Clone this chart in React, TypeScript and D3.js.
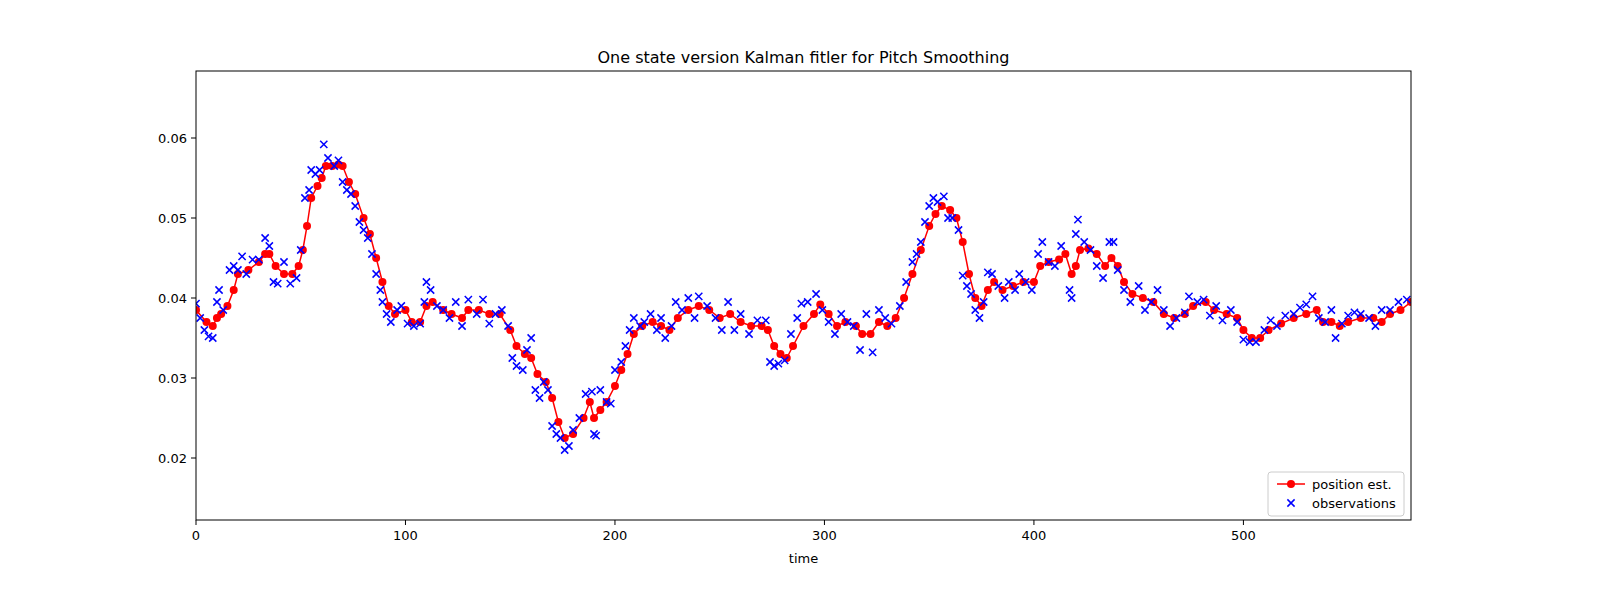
import * as d3 from "d3";
import { useEffect } from "react";

const estT = [0,5,8,10,12,15,18,20,25,30,33,35,38,42,46,49,51,53,55,58,60,62,65,68,70,73,76,80,83,86,89,92,95,100,103,107,110,113,118,122,127,130,135,140,145,150,153,157,160,163,167,170,173,176,180,185,188,190,193,196,200,203,206,209,213,218,222,226,230,235,240,245,250,255,260,265,270,273,276,279,282,285,290,295,298,302,306,310,315,318,322,326,330,334,338,342,346,350,353,356,360,363,366,369,372,375,378,381,385,390,395,400,403,407,412,415,418,420,422,426,430,434,437,440,443,447,452,457,462,467,472,476,482,486,492,497,500,504,508,512,518,524,530,535,538,542,546,550,556,562,566,570,575,580];
const estV = [0.0385,0.037,0.0365,0.0375,0.038,0.039,0.041,0.043,0.0435,0.0445,0.0455,0.0455,0.044,0.043,0.043,0.044,0.046,0.049,0.0525,0.054,0.055,0.0565,0.0565,0.0567,0.0565,0.0545,0.053,0.05,0.048,0.045,0.042,0.039,0.038,0.0385,0.037,0.037,0.039,0.0395,0.0385,0.038,0.0375,0.0385,0.0385,0.038,0.038,0.036,0.034,0.033,0.0325,0.0305,0.0295,0.0275,0.0245,0.0225,0.023,0.025,0.027,0.025,0.026,0.027,0.029,0.031,0.033,0.0355,0.0365,0.037,0.0365,0.036,0.0375,0.0385,0.039,0.0385,0.0375,0.038,0.037,0.0365,0.0365,0.036,0.034,0.033,0.0325,0.034,0.0365,0.038,0.0392,0.038,0.0365,0.037,0.0365,0.0355,0.0355,0.037,0.0365,0.0375,0.04,0.043,0.046,0.049,0.0505,0.0515,0.051,0.05,0.047,0.043,0.04,0.039,0.041,0.042,0.041,0.0415,0.042,0.042,0.044,0.0445,0.0448,0.0455,0.043,0.044,0.046,0.0462,0.0455,0.044,0.045,0.044,0.042,0.0405,0.04,0.0395,0.038,0.0375,0.038,0.039,0.0395,0.0385,0.038,0.0375,0.036,0.035,0.035,0.036,0.0368,0.0375,0.038,0.0385,0.037,0.037,0.0365,0.037,0.0375,0.0375,0.037,0.038,0.0385,0.0395];

const obsT = [0,2,4,6,8,10,11,13,16,18,20,22,24,27,30,33,35,37,39,42,45,48,50,52,54,55,57,59,61,63,66,68,70,72,74,76,78,80,82,84,86,88,89,91,93,96,98,101,104,107,109,110,112,115,118,121,124,127,130,134,137,140,143,146,149,151,153,156,158,160,162,164,166,168,170,172,174,176,178,180,183,186,189,190,191,193,196,198,200,203,205,207,209,212,214,217,220,222,224,227,229,232,235,238,240,244,248,251,254,257,260,264,268,272,274,276,278,281,284,287,289,292,296,299,302,305,308,311,314,317,320,323,326,329,332,336,339,342,344,346,348,350,352,354,357,359,361,364,366,368,370,372,374,376,378,380,383,386,388,391,393,396,399,402,404,407,410,413,417,418,420,421,424,427,430,433,436,438,440,443,446,450,453,456,459,462,465,468,472,474,478,481,484,487,490,494,497,500,503,506,510,513,516,520,524,527,530,533,536,539,542,544,547,550,553,556,560,563,566,570,574,578];
const obsV = [0.0393,0.0375,0.036,0.0352,0.035,0.0395,0.041,0.0385,0.0435,0.044,0.0435,0.0452,0.043,0.0448,0.0448,0.0475,0.0465,0.042,0.0418,0.0445,0.0418,0.0425,0.046,0.0525,0.0535,0.056,0.0555,0.056,0.0592,0.0575,0.0565,0.0572,0.0545,0.0535,0.053,0.0515,0.0495,0.0485,0.0475,0.0455,0.043,0.041,0.0395,0.038,0.037,0.0385,0.039,0.0368,0.0365,0.0368,0.0395,0.042,0.041,0.039,0.0385,0.0375,0.0395,0.0365,0.0398,0.038,0.0398,0.0368,0.038,0.0385,0.0365,0.0325,0.0315,0.031,0.0335,0.035,0.0285,0.0275,0.0295,0.0285,0.024,0.023,0.0225,0.021,0.0215,0.0235,0.025,0.028,0.0283,0.023,0.0228,0.0285,0.027,0.0268,0.031,0.032,0.034,0.036,0.0375,0.0365,0.037,0.038,0.036,0.0375,0.035,0.0365,0.0395,0.0385,0.04,0.0375,0.0402,0.039,0.0375,0.036,0.0395,0.036,0.038,0.0355,0.0372,0.0372,0.032,0.0315,0.0318,0.0322,0.0355,0.0375,0.0393,0.0395,0.0405,0.0385,0.037,0.0355,0.038,0.037,0.0365,0.0335,0.038,0.0332,0.0385,0.0375,0.0368,0.039,0.042,0.0445,0.0455,0.047,0.0495,0.0515,0.0525,0.052,0.0527,0.05,0.05,0.0485,0.0428,0.0415,0.0405,0.0385,0.0375,0.0395,0.0432,0.043,0.0415,0.04,0.042,0.041,0.043,0.042,0.041,0.0455,0.047,0.0445,0.044,0.0465,0.041,0.04,0.048,0.0498,0.047,0.046,0.044,0.0425,0.047,0.047,0.0435,0.041,0.0395,0.0415,0.0385,0.0395,0.041,0.0385,0.0365,0.0375,0.0382,0.0402,0.0395,0.0398,0.0378,0.039,0.0372,0.0385,0.037,0.0348,0.0345,0.0345,0.036,0.0372,0.0365,0.0378,0.038,0.0388,0.0392,0.0402,0.0375,0.037,0.0385,0.035,0.0368,0.0378,0.0382,0.038,0.0375,0.0365,0.0385,0.0385,0.0395,0.0398];

const yTicks = [0.02, 0.03, 0.04, 0.05, 0.06];
const xTicks = [0, 100, 200, 300, 400, 500];
const FONT = "DejaVu Sans, sans-serif";

const L = 196, R = 1411, T = 71, B = 520;

export default function App() {
  useEffect(() => {
    document.body.style.margin = "0";
  }, []);
  const x = d3.scaleLinear().domain([0, 580]).range([L, R]);
  const y = d3.scaleLinear().domain([0.02, 0.06]).range([458, 138]);
  const est = estT.map((t, i) => [t, estV[i]] as [number, number]);
  const line = d3.line<[number, number]>().x((d) => x(d[0])).y((d) => y(d[1]));
  const xs = 3.6;
  return (
    <svg width={1600} height={600} style={{ display: "block", background: "white" }} fontFamily={FONT}>
      <text x={(L + R) / 2} y={63} textAnchor="middle" fontSize={16}>
        One state version Kalman fitler for Pitch Smoothing
      </text>
      <clipPath id="c"><rect x={L} y={T} width={R - L} height={B - T} /></clipPath>
      <g clipPath="url(#c)">
        <path d={line(est)!} fill="none" stroke="red" strokeWidth={1.5} />
        {est.map((d, i) => (
          <circle key={i} cx={x(d[0])} cy={y(d[1])} r={4} fill="red" />
        ))}
        {obsT.map((t, i) => {
          const cx = x(t), cy = y(obsV[i]);
          return (
            <path key={i} d={`M${cx - xs},${cy - xs}L${cx + xs},${cy + xs}M${cx - xs},${cy + xs}L${cx + xs},${cy - xs}`} stroke="blue" strokeWidth={1.5} />
          );
        })}
      </g>
      <rect x={L} y={T} width={R - L} height={B - T} fill="none" stroke="black" strokeWidth={1} />
      {xTicks.map((t) => (
        <g key={t}>
          <line x1={x(t)} x2={x(t)} y1={B} y2={B + 5} stroke="black" />
          <text x={x(t)} y={B + 20} textAnchor="middle" fontSize={13}>{t}</text>
        </g>
      ))}
      {yTicks.map((t) => (
        <g key={t}>
          <line x1={L - 5} x2={L} y1={y(t)} y2={y(t)} stroke="black" />
          <text x={L - 9} y={y(t) + 5} textAnchor="end" fontSize={13}>{d3.format(".2f")(t)}</text>
        </g>
      ))}
      <text x={(L + R) / 2} y={563} textAnchor="middle" fontSize={13}>time</text>
      <g>
        <rect x={1268} y={472} width={136} height={44} rx={3} fill="white" fillOpacity={0.8} stroke="#ccc" />
        <line x1={1277} x2={1305} y1={484} y2={484} stroke="red" strokeWidth={1.5} />
        <circle cx={1291} cy={484} r={4} fill="red" />
        <text x={1312} y={489} fontSize={13}>position est.</text>
        <path d={`M${1291 - xs},${503 - xs}L${1291 + xs},${503 + xs}M${1291 - xs},${503 + xs}L${1291 + xs},${503 - xs}`} stroke="blue" strokeWidth={1.5} />
        <text x={1312} y={508} fontSize={13}>observations</text>
      </g>
    </svg>
  );
}
